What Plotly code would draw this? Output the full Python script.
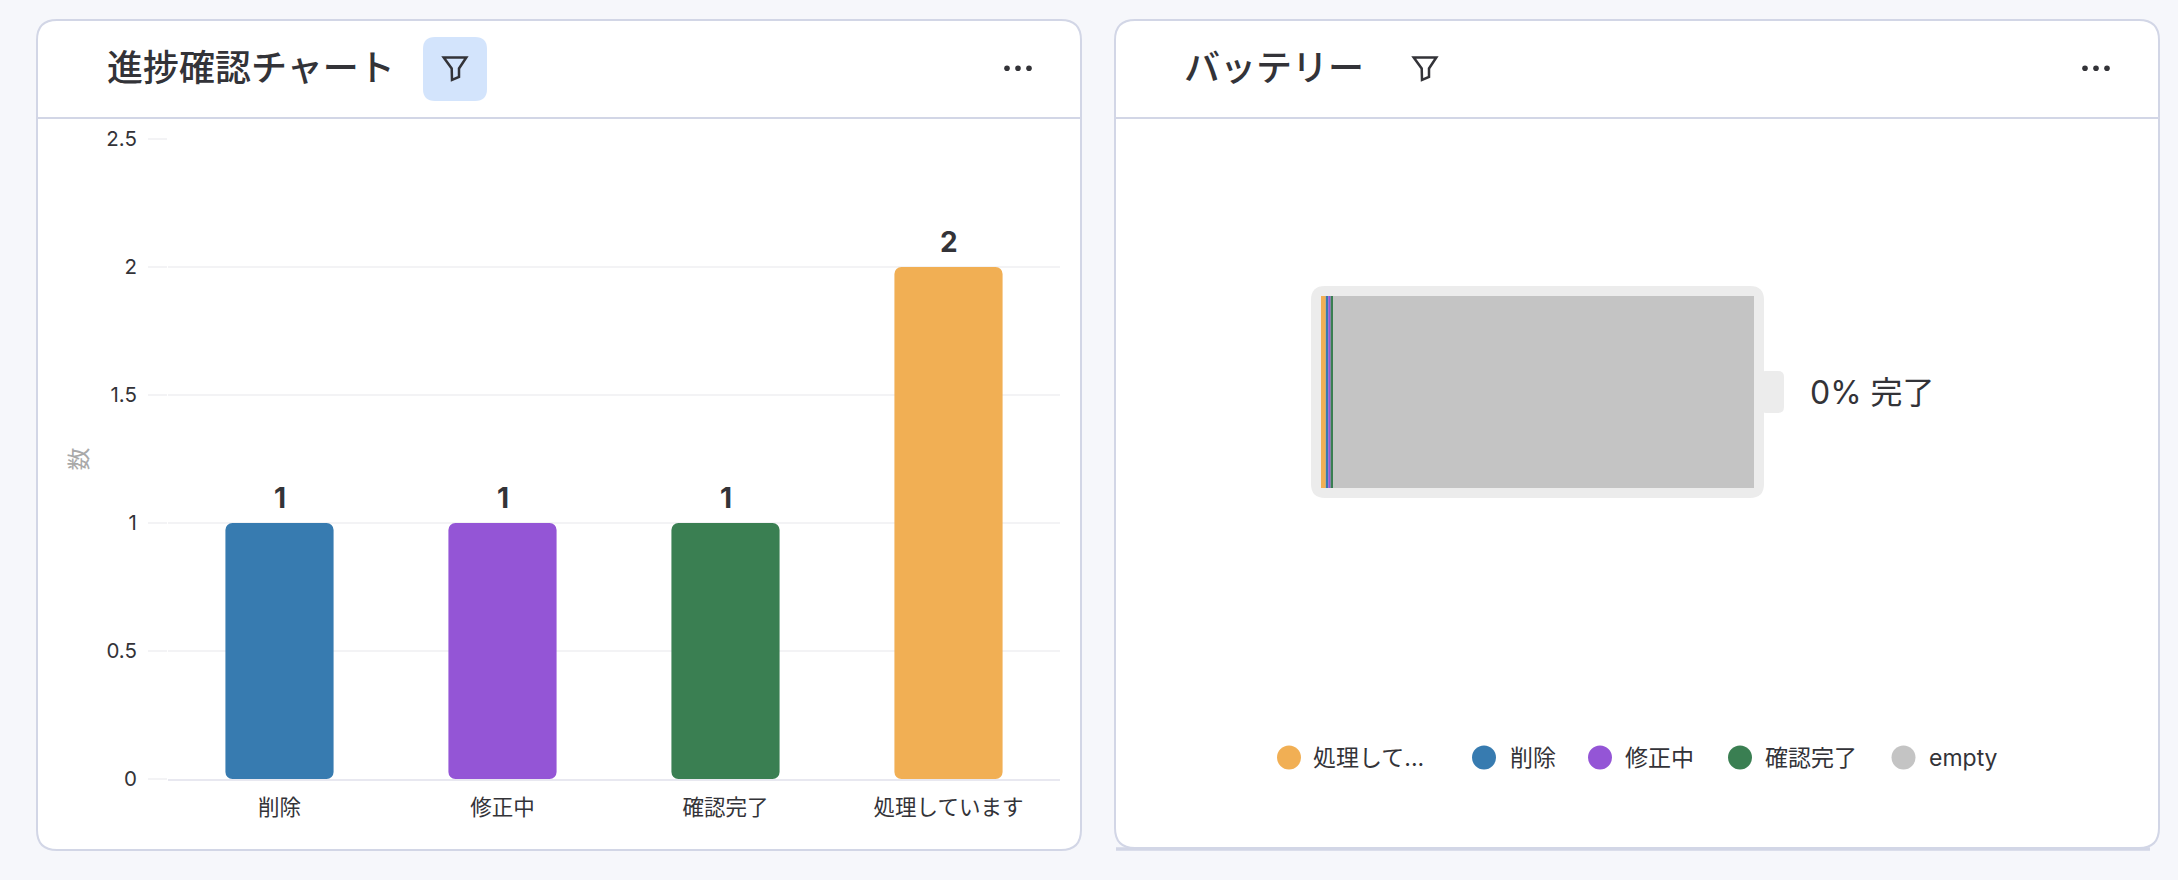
import numpy as np
import plotly.graph_objects as go

W = 2178
H = 880

categories = ['削除', '修正中', '確認完了', '処理しています']
counts = [1, 1, 1, 2]
bar_colors = ['#377bb0', '#9455d6', '#3a7f52', '#f1af54']

battery_names = ['処理しています', '削除', '修正中', '確認完了', 'empty']
battery_values = [2, 1, 1, 1, 175]
battery_colors = ['#f1af54', '#377bb0', '#9455d6', '#3a7f52', '#c4c4c4']

y_ticks = [0, 0.5, 1, 1.5, 2, 2.5]
y_tick_labels = ['0', '0.5', '1', '1.5', '2', '2.5']

legend_labels = ['処理して...', '削除', '修正中', '確認完了', 'empty']
legend_dots = [1289, 1484, 1600, 1740, 1903.5]
legend_text = [1311, 1508, 1623, 1763, 1927]

FONT = "Inter, 'Noto Sans CJK JP', sans-serif"
TEXT = '#333338'
BORDER = '#d2d6e6'


def px(x):
    return x / W


def py(y):
    return 1 - y / H


def rounded(x0, y0, x1, y1, r):
    # rounded box as svg path, in paper fractions
    pts = [
        ('M', x0 + r, y0), ('L', x1 - r, y0), ('Q', x1, y0, x1, y0 + r),
        ('L', x1, y1 - r), ('Q', x1, y1, x1 - r, y1), ('L', x0 + r, y1),
        ('Q', x0, y1, x0, y1 - r), ('L', x0, y0 + r), ('Q', x0, y0, x0 + r, y0),
    ]
    out = []
    for p in pts:
        vals = list(p[1:])
        coords = []
        for i in range(0, len(vals), 2):
            coords.append(f'{px(vals[i]):.6f},{py(vals[i + 1]):.6f}')
        out.append(p[0] + ' ' + ' '.join(coords))
    return ' '.join(out) + ' Z'


def box(x0, y0, x1, y1, r, fill, line=None, lw=0):
    return dict(type='path', xref='paper', yref='paper', layer='below',
                path=rounded(x0, y0, x1, y1, r), fillcolor=fill,
                line=dict(color=line if line else fill, width=lw))


def rule(x0, x1, y, width=2):
    return dict(type='line', xref='paper', yref='paper', layer='below', x0=px(x0), x1=px(x1), y0=py(y), y1=py(y),
                line=dict(color=BORDER, width=width))


def funnel(cx):
    p = [(-11.3, 57.5), (11.3, 57.5), (4, 68.5), (4, 77), (-3, 80), (-3.3, 68.5)]
    path = ' '.join(('M ' if i == 0 else 'L ') + f'{px(cx + a):.6f},{py(b):.6f}' for i, (a, b) in enumerate(p))
    return dict(type='path', xref='paper', yref='paper', path=path + ' Z',
                line=dict(color=TEXT, width=2.5))


def dot(cx, cy, r, color):
    return dict(type='circle', xref='paper', yref='paper', layer='below',
                x0=px(cx - r), x1=px(cx + r), y0=py(cy + r), y1=py(cy - r),
                fillcolor=color, line=dict(width=0))


def label(x, y, text, size, anchor='left', color=TEXT, weight=400):
    return dict(xref='paper', yref='paper', x=px(x), y=py(y), text=text, showarrow=False,
                xanchor=anchor, yanchor='middle', font=dict(size=size, color=color, family=FONT, weight=weight))


fig = go.Figure()

# an explicit base makes plotly round all four corners
fig.add_trace(go.Bar(x=categories, y=counts, base=[0] * len(counts), width=0.485,
                     marker=dict(color=bar_colors, line=dict(width=0), cornerradius=7),
                     showlegend=False, xaxis='x', yaxis='y'))

left = np.cumsum([0] + battery_values[:-1])
for i in range(len(battery_values)):
    fig.add_trace(go.Bar(y=[0], x=[battery_values[i]], base=[left[i]], name=battery_names[i], orientation='h', width=1,
                         marker=dict(color=battery_colors[i], line=dict(width=0)),
                         showlegend=False, xaxis='x2', yaxis='y2'))

shapes = [
    box(37, 20, 1081, 850, 20, '#ffffff', BORDER, 2),
    box(1115, 20, 2159, 848, 20, '#ffffff', BORDER, 2),
    rule(37, 1081, 118),
    rule(1115, 2159, 118),
    rule(1116, 2150, 849, 3.5),
    box(423, 37, 487, 101, 12, '#d3e4fc'),
    funnel(455),
    funnel(1425),
    box(1311, 286, 1764, 498, 14, '#ececec'),
    box(1760, 371, 1784, 413, 6, '#ececec'),
]
for cx in [1007, 1018, 1029, 2085, 2096, 2107]:
    shapes.append(dot(cx, 68.3, 2.8, TEXT))
for i in range(len(legend_labels)):
    shapes.append(dot(legend_dots[i], 757.5, 12, battery_colors[i]))

annotations = [
    label(105, 68, '進捗確認チャート', 36, weight=500),
    label(1182, 68, 'バッテリー', 36, weight=500),
    label(1807.5, 392.5, '0% 完了', 32),
]
for i in range(len(legend_labels)):
    annotations.append(label(legend_text[i], 757.5, legend_labels[i], 23))
for i in range(len(categories)):
    annotations.append(dict(x=categories[i], y=counts[i], xref='x', yref='y', text=str(counts[i]), showarrow=False,
                            yanchor='bottom', yshift=6.5, font=dict(size=28, color=TEXT, family=FONT, weight='bold')))

fig.update_layout(
    width=W,
    height=H,
    margin=dict(l=0, r=0, t=0, b=0, pad=0, autoexpand=False),
    paper_bgcolor='#f6f7fb',
    plot_bgcolor='rgba(0,0,0,0)',
    barmode='overlay',
    font=dict(family=FONT, color=TEXT, size=21),
    shapes=shapes,
    annotations=annotations,
    xaxis=dict(domain=[px(168), px(1060)], type='category', categoryorder='array', categoryarray=categories,
               range=[-0.5, 3.5], showgrid=False, showline=True, linecolor='#e8e8f0', linewidth=2,
               ticks='', ticklabelstandoff=8, tickfont=dict(size=21.5), fixedrange=True, zeroline=False,
               automargin=False),
    yaxis=dict(domain=[py(779), py(139)], range=[0, 2.5], tickvals=y_ticks, ticktext=y_tick_labels,
               showgrid=True, gridcolor='#f3f3f5', gridwidth=2, zeroline=False, showline=False,
               ticks='outside', ticklen=19, tickcolor='#f3f3f5', tickwidth=2, ticklabelstandoff=7,
               tickfont=dict(size=20.5),
               title=dict(text='数', font=dict(size=23, color='#a9a9a9'), standoff=12), fixedrange=True,
               automargin=False),
    xaxis2=dict(domain=[px(1321), px(1754)], anchor='y2', range=[0, sum(battery_values)], visible=False,
                fixedrange=True, automargin=False),
    yaxis2=dict(domain=[py(488), py(296)], anchor='x2', range=[-0.5, 0.5], visible=False,
                fixedrange=True, automargin=False),
)

fig.write_html('out.html', config=dict(displayModeBar=False), post_script="document.body.style.margin='0';")
